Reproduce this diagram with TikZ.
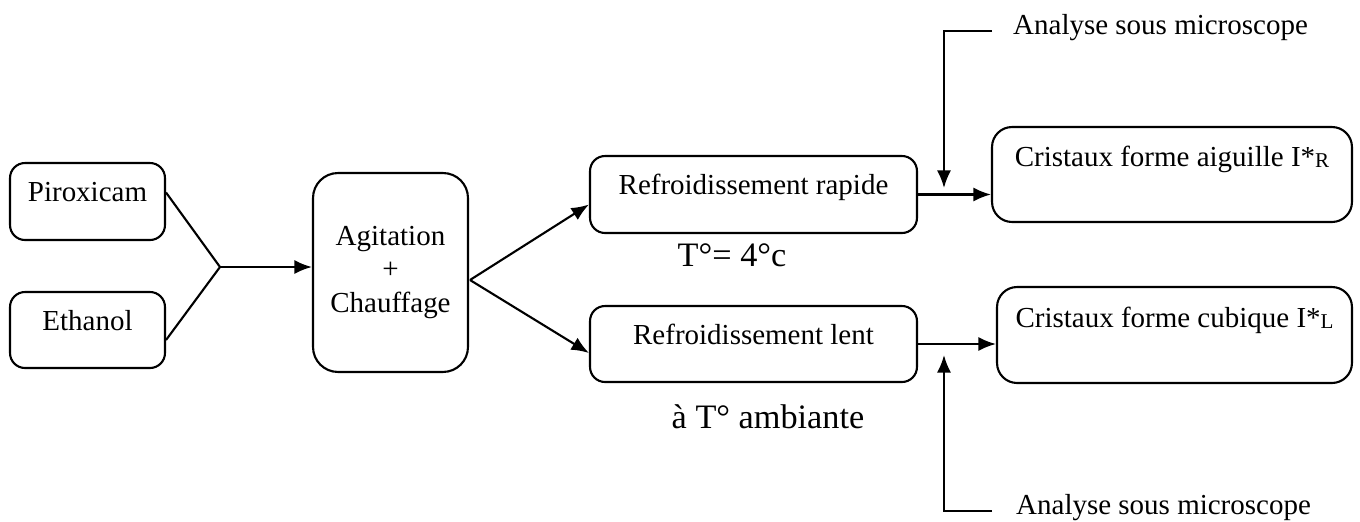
\documentclass[tikz,border=0pt]{standalone}
\usepackage{fontspec}
\setmainfont{Liberation Serif}
\usetikzlibrary{arrows.meta}

\tikzset{
  kader/.style={draw, line width=1.2pt, rounded corners=0.3cm, font=\fontsize{16.5}{19}\selectfont},
  hoog/.style={text height=4pt, text depth=4pt},
  hoger/.style={text height=2pt, text depth=11pt},
  pijl/.style={-{Latex[length=10pt,width=8pt]}, line width=1.2pt},
  lijn/.style={line width=1.2pt},
  groot/.style={font=\fontsize{19.5}{22}\selectfont},
  klein/.style={font=\fontsize{16.5}{19}\selectfont},
}
\newcommand{\ondr}[1]{\raisebox{-0.1ex}{\fontsize{12}{12}\selectfont #1}}

\begin{document}
\begin{tikzpicture}[x=0.02cm, y=-0.02cm]
    \useasboundingbox (0,0) rectangle (1360,521);

    % Grondstoffen
    \node[kader, hoog, minimum width=3.1cm, minimum height=1.54cm] (piroxicam) at (87.5,201.5) {Piroxicam};
    \node[kader, hoog, minimum width=3.1cm, minimum height=1.52cm] (ethanol) at (87.5,330) {Ethanol};

    % Mengen
    \node[kader, rounded corners=0.5cm, align=center, minimum width=3.1cm, minimum height=3.98cm] (agitatie) at (390.5,272.5) {Agitation\\+\\Chauffage};

    % Afkoelen
    \node[kader, hoog, minimum width=6.54cm, minimum height=1.54cm] (rapide) at (753.5,194.5) {Refroidissement rapide};
    \node[kader, hoog, minimum width=6.54cm, minimum height=1.52cm] (lent) at (753.5,344) {Refroidissement lent};
    \node[groot] (temp1) at (732,255) {T°= 4°c};
    \node[groot] (temp2) at (768,417) {à T° ambiante};

    % Kristallen
    \node[kader, hoger, rounded corners=0.4cm, minimum width=7.2cm, minimum height=1.9cm] (aiguille) at (1172,174.5) {Cristaux forme aiguille I*\ondr{R}};
    \node[kader, hoger, rounded corners=0.4cm, minimum width=7.1cm, minimum height=1.92cm] (cubique) at (1174.5,335) {Cristaux forme cubique I*\ondr{L}};

    % Verbindingen
    \coordinate (samen) at (220,267);
    \draw[lijn] ([yshift=0.18cm]piroxicam.east) -- (samen) -- ([yshift=-0.2cm]ethanol.east);
    \draw[pijl] (samen) -- (samen -| agitatie.west);

    \coordinate (splits) at (470,280);
    \draw[pijl] (splits) -- ([yshift=-0.2cm]rapide.west);
    \draw[pijl] (splits) -- ([yshift=-0.18cm]lent.west);

    \draw[pijl] (rapide.east) -- (rapide.east -| aiguille.west);
    \draw[pijl] (lent.east) -- (lent.east -| cubique.west);

    % Microscoop
    \node[klein, anchor=base west] (analyse1) at (1007,34) {Analyse sous microscope};
    \node[klein, anchor=base west] (analyse2) at (1010,514) {Analyse sous microscope};
    \coordinate (inval1) at (944,188);
    \coordinate (inval2) at (944,355);
    \draw[pijl] ([xshift=-0.3cm,yshift=0.06cm]analyse1.base west) -| (inval1);
    \draw[pijl] ([xshift=-0.36cm,yshift=0.06cm]analyse2.base west) -| (inval2);
\end{tikzpicture}
\end{document}
